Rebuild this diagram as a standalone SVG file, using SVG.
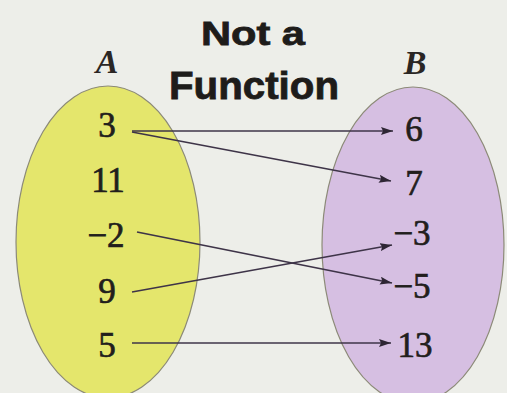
<svg xmlns="http://www.w3.org/2000/svg" width="507" height="393" viewBox="0 0 507 393">
<defs>
<style>
.title{font-family:"Liberation Sans",Arial,sans-serif;font-weight:bold;fill:#1e1c1a;stroke:#1e1c1a;stroke-width:0.8;text-anchor:middle}
.lbl{font-family:"Liberation Serif","Times New Roman",serif;font-style:italic;font-weight:bold;font-size:34px;fill:#2a2624;text-anchor:middle}
.num{font-family:"Liberation Serif","Times New Roman",serif;font-size:35px;fill:#221e1c;stroke:#221e1c;stroke-width:0.7;text-anchor:middle}
.set{stroke:#8c8a78;stroke-width:1.2}
.arr{stroke:#3e3448;stroke-width:1.6;fill:none;marker-end:url(#ah)}
</style>
<marker id="ah" viewBox="0 0 12 8" refX="12" refY="4" markerWidth="12" markerHeight="8" markerUnits="userSpaceOnUse" orient="auto">
<path d="M0,0 L12,4 L0,8 L2,4 Z" fill="#2e2634"/>
</marker>
</defs>
<rect width="507" height="393" fill="#edeee9"/>
<g id="title">
<text class="title" x="253" y="45" font-size="34" textLength="104" lengthAdjust="spacingAndGlyphs">Not a</text>
<text class="title" x="254" y="99" font-size="38" textLength="170" lengthAdjust="spacingAndGlyphs">Function</text>
</g>
<g id="setA">
<ellipse class="set" cx="108" cy="242" rx="92" ry="156" fill="#e4e66c"/>
<text class="lbl" x="107" y="73">A</text>
<text class="num" x="107" y="137">3</text>
<text class="num" x="108" y="192">11</text>
<text class="num" x="106" y="247">−2</text>
<text class="num" x="107" y="303">9</text>
<text class="num" x="107" y="357">5</text>
</g>
<g id="setB">
<ellipse class="set" cx="413" cy="245" rx="91" ry="158" fill="#d6bfe2"/>
<text class="lbl" x="415" y="74">B</text>
<text class="num" x="414" y="141">6</text>
<text class="num" x="414" y="195">7</text>
<text class="num" x="412" y="245">−3</text>
<text class="num" x="412" y="298">−5</text>
<text class="num" x="415" y="357">13</text>
</g>
<g id="connectors">
<line class="arr" x1="132" y1="131" x2="393" y2="131"/>
<line class="arr" x1="132" y1="132" x2="391" y2="181"/>
<line class="arr" x1="137" y1="232" x2="392" y2="283"/>
<line class="arr" x1="132" y1="292" x2="392" y2="245"/>
<line class="arr" x1="132" y1="343" x2="391" y2="343"/>
</g>
</svg>
